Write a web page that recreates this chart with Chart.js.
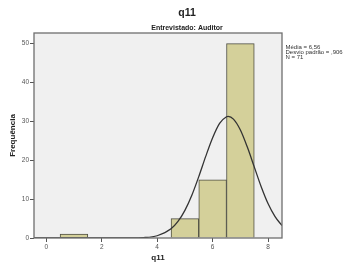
<!DOCTYPE html>
<html>
<head>
<meta charset="utf-8">
<script src="https://cdn.jsdelivr.net/npm/chart.js@4"></script>
<style>
  html, body { margin: 0; padding: 0; background: #fff; }
  #grafico { display: block; }
</style>
</head>
<body>
<canvas id="grafico" width="348" height="269"></canvas>
<script>
// Histograma q11 (Entrevistado: Auditor)
const centrosBarras = [1, 5, 6, 7];
const frequencias = [1, 5, 15, 50];

// curva normal
const curvaX = [-0.44, 1, 2, 2.5, 3, 3.5, 4, 4.5, 4.75, 5, 5.25, 5.5, 5.75, 6, 6.25, 6.5, 6.56, 6.75, 7, 7.25, 7.5, 7.75, 8, 8.25, 8.5];
const curvaY = [0, 0, 0, 0.001, 0.014, 0.1, 0.58, 2.36, 4.25, 7.1, 11.0, 15.8, 21.0, 25.8, 29.5, 31.2, 31.3, 30.6, 27.8, 23.4, 18.3, 13.2, 8.8, 5.5, 3.2];

const ticksX = [0, 2, 4, 6, 8];
const ticksY = [0, 10, 20, 30, 40, 50];

const estatisticas = ["Média = 6,56", "Desvio padrão = ,906", "N = 71"];

const fonte = "'Liberation Sans', Arial, sans-serif";

// fundo cinza, moldura e textos
const moldura = {
  id: 'moldura',
  beforeDatasetsDraw(chart) {
    const { ctx, chartArea: a } = chart;
    ctx.save();
    ctx.fillStyle = '#f0f0f0';
    ctx.fillRect(a.left, a.top, a.right - a.left, a.bottom - a.top);
    ctx.restore();
  },
  afterDatasetsDraw(chart) {
    const { ctx, chartArea: a } = chart;
    ctx.save();
    ctx.strokeStyle = '#6e6e6e';
    ctx.lineWidth = 1.3;
    ctx.strokeRect(a.left, a.top, a.right - a.left, a.bottom - a.top);
    ctx.restore();
  },
  afterDraw(chart) {
    const { ctx } = chart;
    ctx.save();
    ctx.fillStyle = '#222';
    ctx.textAlign = 'center';
    ctx.textBaseline = 'middle';
    ctx.font = "bold 10.5px " + fonte;
    ctx.fillText("q11", 187, 13.5);
    ctx.font = "bold 7px " + fonte;
    ctx.fillText("Entrevistado: Auditor", 187, 28);
    ctx.textAlign = 'left';
    ctx.font = "6px " + fonte;
    ctx.fillStyle = '#333';
    estatisticas.forEach((t, i) => ctx.fillText(t, 285.5, 47 + i * 5));
    ctx.restore();
  }
};

new Chart(document.getElementById("grafico").getContext("2d"), {
  type: 'bar',
  data: {
    datasets: [
      {
        type: 'line',
        data: curvaX.map((x, i) => ({ x, y: curvaY[i] })),
        borderColor: '#333',
        borderWidth: 1.3,
        pointRadius: 0,
        cubicInterpolationMode: 'monotone',
        fill: false
      },
      {
        data: centrosBarras.map((x, i) => ({ x, y: frequencias[i] })),
        backgroundColor: '#d4d09a',
        borderColor: '#4e4e42',
        borderWidth: 1,
        barPercentage: 1,
        categoryPercentage: 1
      }
    ]
  },
  options: {
    responsive: false,
    animation: false,
    layout: { padding: { top: 33, right: 66, left: 0, bottom: 0 } },
    plugins: { legend: { display: false }, tooltip: { enabled: false } },
    scales: {
      x: {
        type: 'linear',
        offset: false,
        min: -0.44,
        max: 8.5,
        afterBuildTicks: s => { s.ticks = ticksX.map(v => ({ value: v })); },
        afterFit: s => { s.height = 31; },
        grid: { drawOnChartArea: false, offset: false, tickLength: 4, color: '#555' },
        border: { display: false },
        ticks: { color: '#555', font: { size: 6.5, family: fonte }, padding: 1, maxRotation: 0 },
        title: { display: true, text: 'q11', color: '#222', font: { size: 8, weight: 'bold', family: fonte }, padding: { top: 0, bottom: 6 } }
      },
      y: {
        min: 0,
        max: 52.75,
        afterBuildTicks: s => { s.ticks = ticksY.map(v => ({ value: v })); },
        afterFit: s => { s.width = 34; },
        grid: { drawOnChartArea: false, tickLength: 4, color: '#555' },
        border: { display: false },
        ticks: { color: '#555', font: { size: 6.5, family: fonte }, padding: 1 },
        title: { display: true, text: 'Frequência', color: '#222', font: { size: 8, weight: 'bold', family: fonte }, padding: { top: 8, bottom: 0 } }
      }
    }
  },
  plugins: [moldura]
});
</script>
</body>
</html>
